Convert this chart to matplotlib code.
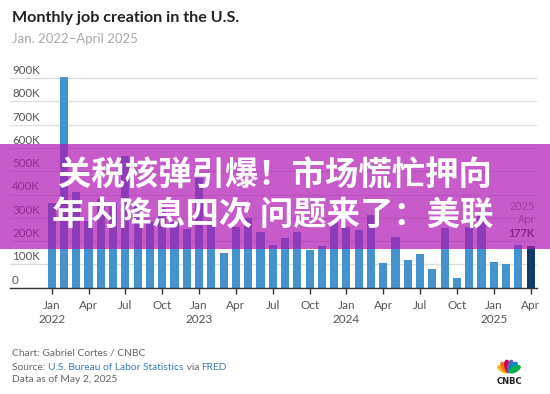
import matplotlib
matplotlib.use('Agg')
import matplotlib.pyplot as plt
from matplotlib.patches import Rectangle, Ellipse
from matplotlib.transforms import blended_transform_factory, offset_copy
import math

# ---------------- data (thousands of jobs) ----------------
jobs_2022 = [365, 904, 412, 285, 380, 369, 565, 350, 280, 340, 285, 250]
jobs_2023 = [470, 290, 148, 259, 298, 240, 183, 212, 238, 162, 180, 283]
jobs_2024 = [262, 248, 310, 107, 216, 119, 145, 79, 255, 43, 261, 323]
jobs_2025 = [111, 102, 185, 177]
jobs = jobs_2022 + jobs_2023 + jobs_2024 + jobs_2025

month_names = ["Jan", "Apr", "Jul", "Oct"]
years = ["2022", "2023", "2024", "2025"]
y_ticks = [0, 100, 200, 300, 400, 500, 600, 700, 800, 900]
y_labels = ["0", "100K", "200K", "300K", "400K", "500K", "600K", "700K", "800K", "900K"]

title = "Monthly job creation in the U.S."
subtitle = "Jan. 2022\u2013April 2025"
last_label = ("2025", "Apr", "177K")
overlay_lines = ["关税核弹引爆！市场慌忙押向", "年内降息四次 问题来了：美联"]

# ---------------- figure ----------------
W, H = 550, 394
fig = plt.figure(figsize=(W / 100, H / 100), dpi=100)
fig.patch.set_facecolor("white")
LAT = ["Lato", "DejaVu Sans"]


def fx(px):
    return px / W


def fy(py):
    return 1 - py / H


left_px, right_px, top_px, base_px = 10, 537, 70, 287.7
ax = fig.add_axes([fx(left_px), fy(base_px), fx(right_px) - fx(left_px), fy(top_px) - fy(base_px)])

n = len(jobs)
xs = list(range(n))
colors = ["#4493cf"] * (n - 1) + ["#0d3d66"]
ax.bar(xs, jobs, width=0.66, color=colors, zorder=2)

px_per_month = 12.28
ax.set_xlim((left_px - 51.7) / px_per_month, (right_px - 51.7) / px_per_month)
ax.set_ylim(0, (base_px - top_px) / 0.233)

for s in ["top", "right", "left"]:
    ax.spines[s].set_visible(False)
ax.spines["bottom"].set_color("#333333")
ax.spines["bottom"].set_linewidth(1.0)
ax.spines["bottom"].set_zorder(3)

ax.set_yticks(y_ticks)
ax.set_yticklabels([])
ax.tick_params(axis="y", left=False)
ax.yaxis.grid(True, color="#dcdcdc", lw=0.9, zorder=0)
ax.set_axisbelow(True)

trans_y = blended_transform_factory(ax.transAxes, ax.transData)
trans_y = offset_copy(trans_y, fig=fig, x=0, y=2, units="dots")
for v, lab in zip(y_ticks, y_labels):
    ax.text(0.004, v, lab, transform=trans_y, ha="left", va="bottom",
            fontsize=8.3, color="#555555", family=LAT)

tick_pos = [i for i in xs if i % 3 == 0]
tick_labels = []
for i in tick_pos:
    m = month_names[(i % 12) // 3]
    if i % 12 == 0:
        tick_labels.append(m + "\n" + years[i // 12])
    else:
        tick_labels.append(m)
ax.set_xticks(tick_pos)
ax.set_xticklabels(tick_labels, fontsize=8.5, color="#555555", family=LAT, linespacing=1.35)
ax.tick_params(axis="x", length=4, width=1, color="#333333", pad=5)

# label above last bar
tr = ax.transData
for txt, dy, w, c in [(last_label[0], 40, "normal", "#888888"),
                      (last_label[1], 27, "normal", "#888888"),
                      (last_label[2], 13, "bold", "#333333")]:
    t = offset_copy(tr, fig=fig, x=0, y=dy, units="dots")
    ax.text(n - 1 + 0.36, jobs[-1], txt, transform=t, ha="right", va="center",
            fontsize=7.8, color=c, fontweight=w, family=LAT)

# titles
fig.text(fx(12), fy(18), title, ha="left", va="center", fontsize=11.6, fontweight="bold",
         color="#222222", family=LAT)
fig.text(fx(12), fy(39), subtitle, ha="left", va="center", fontsize=9.5,
         color="#aaaaaa", family=LAT)

# footer
fig.text(fx(12), fy(353), "Chart: Gabriel Cortes / CNBC", ha="left", va="center",
         fontsize=7.4, color="#666666", family=LAT)
fig.text(fx(12), fy(380), "Data as of May 2, 2025", ha="left", va="center",
         fontsize=7.4, color="#666666", family=LAT)

fig.canvas.draw()
renderer = fig.canvas.get_renderer()
xcur = 12
for piece, col in [("Source: ", "#666666"), ("U.S. Bureau of Labor Statistics", "#3d7db8"),
                   (" via ", "#666666"), ("FRED", "#3d7db8")]:
    t = fig.text(fx(xcur), fy(367), piece, ha="left", va="center", fontsize=7.4,
                 color=col, family=LAT)
    bb = t.get_window_extent(renderer)
    xcur += bb.width

# CNBC logo
lax = fig.add_axes([fx(494), fy(389), fx(30), fy(0) - fy(36)])
lax.set_xlim(0, 30)
lax.set_ylim(0, 36)
lax.axis("off")
feathers = ["#fcb711", "#f37021", "#cc004c", "#6460aa", "#0089d0", "#0db14b"]
angles = [62, 38, 12, -12, -38, -62]
for col, a in zip(feathers, angles):
    r = 6.5
    cx = 15 - r * math.sin(math.radians(a))
    cy = 17 + r * math.cos(math.radians(a)) * 0.9
    lax.add_patch(Ellipse((cx, cy), 5.2, 12, angle=a, color=col))
lax.text(15, 7, "CNBC", ha="center", va="center", fontsize=6, fontweight="bold",
         color="#222222", family=["DejaVu Sans"])

# purple overlay band with Chinese text
band = Rectangle((0, fy(249)), 1, fy(144) - fy(249), transform=fig.transFigure,
                 facecolor=(174 / 255, 22 / 255, 178 / 255), alpha=0.7,
                 edgecolor="none", zorder=10)
fig.patches.append(band)
for txt, x0, yc in [(overlay_lines[0], 58, 176), (overlay_lines[1], 52, 216)]:
    fig.text(fx(x0), fy(yc), txt, ha="left", va="center", fontsize=24,
             fontweight=900, color="white",
             family=["Noto Sans CJK SC", "DejaVu Sans"], zorder=11)

fig.savefig("out.png", dpi=100)
